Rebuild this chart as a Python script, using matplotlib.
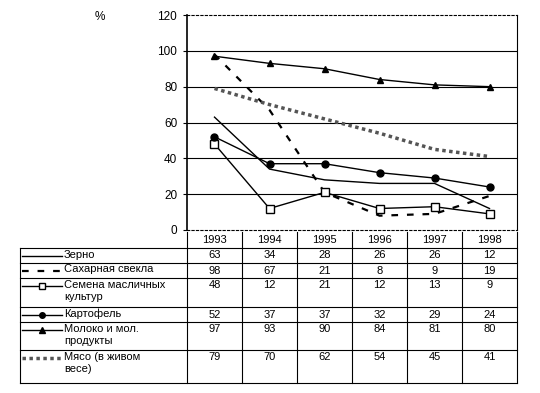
import matplotlib
matplotlib.use('Agg')
import matplotlib.pyplot as plt

plt.rcParams['font.family'] = ['Liberation Sans', 'DejaVu Sans']

years = ['1993', '1994', '1995', '1996', '1997', '1998']
names = ['Зерно', 'Сахарная свекла', 'Семена масличных\nкультур', 'Картофель',
         'Молоко и мол.\nпродукты', 'Мясо (в живом\nвесе)']
zerno = [63, 34, 28, 26, 26, 12]
svekla = [98, 67, 21, 8, 9, 19]
semena = [48, 12, 21, 12, 13, 9]
kartofel = [52, 37, 37, 32, 29, 24]
moloko = [97, 93, 90, 84, 81, 80]
myaso = [79, 70, 62, 54, 45, 41]
series = [zerno, svekla, semena, kartofel, moloko, myaso]
y_ticks = [0, 20, 40, 60, 80, 100, 120]

styles = [
    dict(color='black', lw=1.0, ls='-'),
    dict(color='black', lw=1.6, ls=(0, (3, 4))),
    dict(color='black', lw=1.0, ls='-', marker='s', ms=6, mfc='white', mec='black', mew=1),
    dict(color='black', lw=1.0, ls='-', marker='o', ms=5),
    dict(color='black', lw=1.0, ls='-', marker='^', ms=5),
    dict(color='#555555', lw=2.5, ls=(0, (1, 1))),
]

W, H = 540, 393
fig = plt.figure(figsize=(W / 100, H / 100), dpi=100)

# chart area in pixels
x0, x1, ytop, ybot = 187, 517, 15, 230
ax = fig.add_axes([x0 / W, 1 - ybot / H, (x1 - x0) / W, (ybot - ytop) / H])
xs = range(len(years))
for vals, st in zip(series, styles):
    ax.plot(xs, vals, **st)
ax.set_xlim(-0.5, len(years) - 0.5)
ax.set_ylim(0, 120)
ax.set_yticks(y_ticks)
ax.set_yticklabels([str(t) for t in y_ticks], fontsize=8.5)
ax.set_xticks([])
for t in y_ticks[1:-1]:
    ax.axhline(t, color='black', lw=0.8, zorder=0)
for s in ['top']:
    ax.spines[s].set_linestyle((0, (2, 2)))
ax.spines['bottom'].set_linestyle((0, (2, 2)))
ax.spines['left'].set_linewidth(1.2)
ax.tick_params(axis='y', length=3, pad=4)
fig.text(100 / W, 1 - 17 / H, '%', fontsize=8.5, ha='center', va='center')

# table
tb = fig.add_axes([0, 0, 1, 1])
tb.set_xlim(0, W)
tb.set_ylim(H, 0)
tb.axis('off')
col_w = (x1 - x0) / len(years)
row_tops = [232, 248, 263, 278, 307, 322, 350, 383]
lx0 = 20
for i, y in enumerate(years):
    tb.text(x0 + col_w * (i + 0.5), 240, y, ha='center', va='center', fontsize=8)
for r in range(len(names)):
    ya, yb = row_tops[r + 1], row_tops[r + 2]
    yc = ya + 7.5
    tb.plot([lx0, x1], [ya, ya], color='black', lw=0.8)
    # legend sample
    st = dict(styles[r])
    tb.plot([22, 62], [yc, yc], **{k: v for k, v in st.items() if k not in ('marker', 'ms', 'mfc', 'mec', 'mew')})
    if 'marker' in st:
        tb.plot([42], [yc], marker=st['marker'], ms=st['ms'] - 1, color='black',
                mfc=st.get('mfc', 'black'), mec='black', ls='none')
    tb.text(64, ya + 1.5, names[r], ha='left', va='top', fontsize=8, linespacing=1.25)
    for i in range(len(years)):
        tb.text(x0 + col_w * (i + 0.5), yc, str(series[r][i]), ha='center', va='center', fontsize=8)
tb.plot([lx0, x1], [row_tops[-1], row_tops[-1]], color='black', lw=0.8)
tb.plot([lx0, lx0], [row_tops[1], row_tops[-1]], color='black', lw=0.8)
for i in range(len(years) + 1):
    tb.plot([x0 + col_w * i] * 2, [row_tops[0], row_tops[-1]], color='black', lw=0.8)

fig.savefig('out.png', dpi=100)
